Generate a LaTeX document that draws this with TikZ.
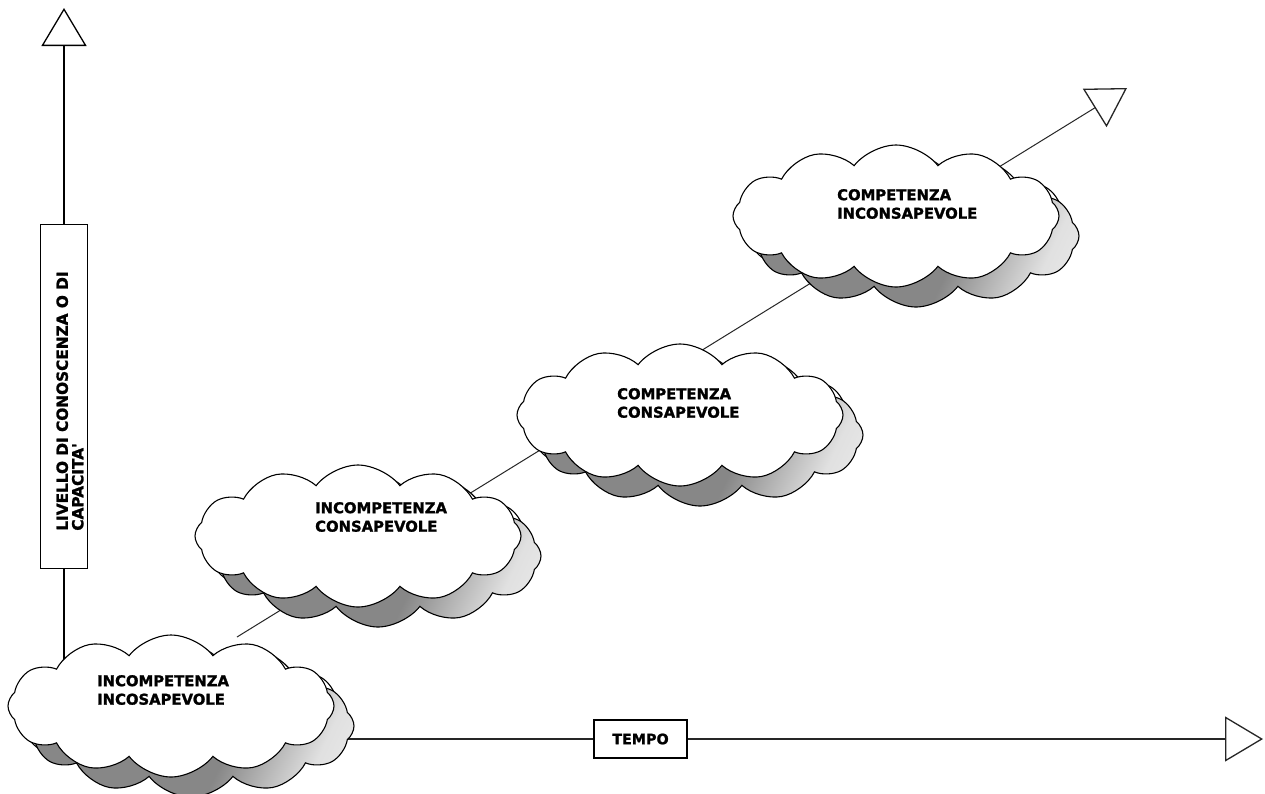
\documentclass[tikz,border=0pt]{standalone}
\usepackage{fontspec}
\usetikzlibrary{shapes.symbols,arrows.meta}
\newfontfamily\heavy{DejaVu Sans}[BoldFeatures={FakeBold=1.5}]
\pgfdeclarehorizontalshading{shadowfade}{100bp}{color(0bp)=(black!47); color(58bp)=(black!47); color(74bp)=(black!12); color(100bp)=(white)}
\begin{document}
\begin{tikzpicture}[x=1pt,y=-1pt,
  cloudbase/.style={cloud, cloud puffs=12, cloud puff arc=105, cloud ignores aspect,
    minimum width=326pt, minimum height=142pt, inner sep=0pt, draw=black, line width=1.1pt},
  cloudmain/.style={cloudbase, fill=white},
  cloudmid/.style={cloudbase, fill=white},
  cloudshadow/.style={cloudbase, shading=shadowfade, shading angle=-25},
  lbl/.style={font=\heavy\bfseries\fontsize{14.8}{18.5}\selectfont, align=left, inner sep=0pt, anchor=west},
  tip/.style={-{Triangle[length=38pt,width=45pt,fill=white,line width=1.3pt]}},
  yaxis/.style={tip, line width=1.8pt, draw=black},
  xaxis/.style={tip, line width=1.1pt, draw=black!85},
  diag/.style={tip, line width=1pt, draw=black!85},
  boxlbl/.style={draw=black, fill=white, line width=1.3pt, inner sep=0pt}
]
\useasboundingbox (0,0) rectangle (1265,793);
\fill[white] (0,0) rectangle (1265,793);

% axis and path end points
\coordinate (yorig) at (64,660);
\coordinate (ytip) at (64,8);
\coordinate (xorig) at (300,739);
\coordinate (xtip) at (1263,739);
\coordinate (dstart) at (237,637);
\coordinate (dtip) at (1127,88);

\draw[yaxis] (yorig) -- (ytip);
\draw[xaxis] (xorig) -- (xtip);
\draw[diag] (dstart) -- (dtip);

% axis labels
\node[boxlbl, minimum width=47pt, minimum height=344pt] (ybox) at (64,396.5) {};
\node[rotate=90, font=\heavy\bfseries\fontsize{15.3}{15.5}\selectfont, align=left, inner sep=0pt] (ylab) at (70,401)
  {LIVELLO DI CONOSCENZA O DI\\CAPACITA\textquotesingle};
\node[boxlbl, minimum width=93pt, minimum height=38pt, font=\heavy\bfseries\fontsize{14.3}{16}\selectfont] (tempo) at (640.5,739) {TEMPO};

% cloud 1
\node[cloudmid] (c1m) at (180,713) {};
\node[cloudshadow] (c1s) at (191,726) {};
\node[cloudmain] (c1) at (171,706) {};
\node[lbl] (t1) at (97,690) {INCOMPETENZA\\INCOSAPEVOLE};

% cloud 2
\node[cloudmid] (c2m) at (367,543) {};
\node[cloudshadow] (c2s) at (378,556) {};
\node[cloudmain] (c2) at (358,536) {};
\node[lbl] (t2) at (315,517) {INCOMPETENZA\\CONSAPEVOLE};

% cloud 3
\node[cloudmid] (c3m) at (689,422) {};
\node[cloudshadow] (c3s) at (700,435) {};
\node[cloudmain] (c3) at (680,415) {};
\node[lbl] (t3) at (617,403) {COMPETENZA\\CONSAPEVOLE};

% cloud 4
\node[cloudmid] (c4m) at (905,223) {};
\node[cloudshadow] (c4s) at (916,236) {};
\node[cloudmain] (c4) at (896,216) {};
\node[lbl] (t4) at (837,204) {COMPETENZA\\INCONSAPEVOLE};
\end{tikzpicture}
\end{document}
